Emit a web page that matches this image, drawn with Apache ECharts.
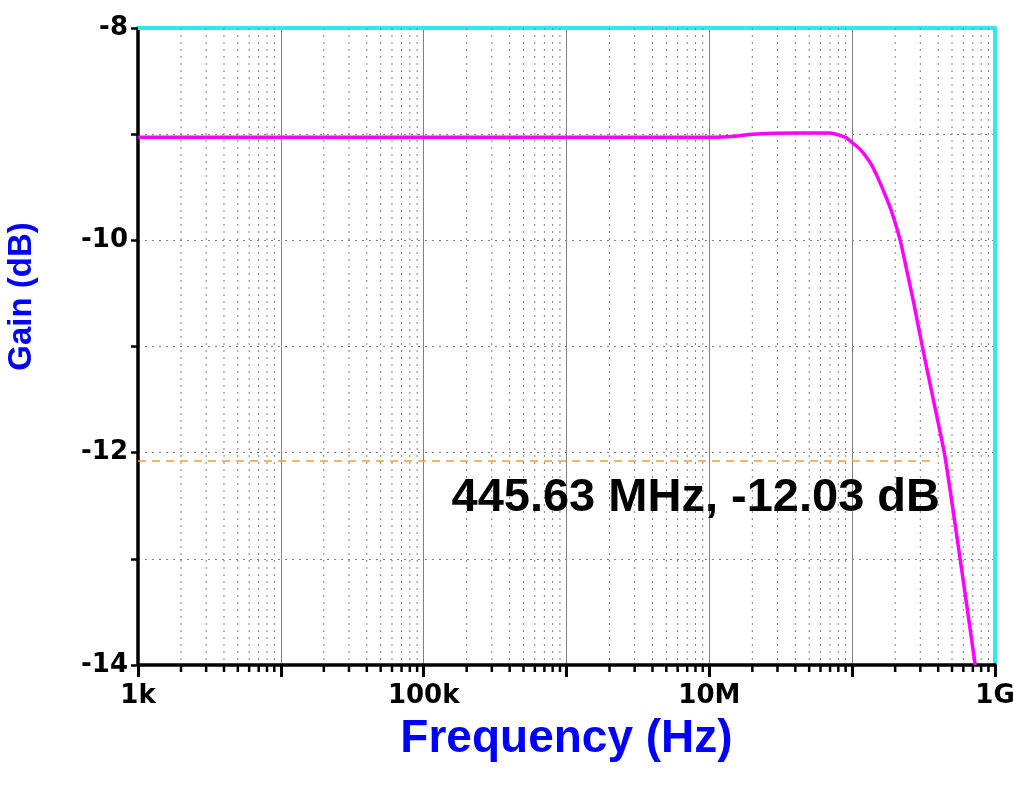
<!DOCTYPE html>
<html>
<head>
<meta charset="utf-8">
<script src="https://cdn.jsdelivr.net/npm/echarts@6/dist/echarts.min.js"></script>
<style>
html, body { margin: 0; padding: 0; background: #fff; }
#chart { width: 1014px; height: 785px; }
</style>
</head>
<body>
<div id="chart"></div>
<script>
// frequency response
const freqHz = [1e3, 1e4, 1e5, 1e6, 1e7, 1.5e7, 2e7, 4e7, 7e7, 9e7, 1e8, 1.15e8, 1.34e8, 1.5e8,
  1.76e8, 1.9e8, 2.17e8, 2.4e8, 2.67e8, 2.8e8, 3.1e8, 3.7e8, 4.4563e8, 5.7e8, 7.27e8];
const gainDb = [-9.03, -9.03, -9.03, -9.03, -9.03, -9.02, -9.0, -8.99, -8.99, -9.03, -9.08, -9.15, -9.27, -9.4,
  -9.62, -9.74, -10.0, -10.27, -10.56, -10.7, -11.0, -11.5, -12.03, -13.0, -14.0];

// marker
const markerFreq = 445.63e6;
const markerGain = -12.03;
const markerLineDb = -12.08;
const markerLineEnd = 3.8e8;

// axis labels
const xLabelPower = [3, 5, 7, 9];
const xLabelText = ['1k', '100k', '10M', '1G'];
const yMin = -14, yMax = -8;
const xMin = 1e3, xMax = 1e9;

// minor log gridlines 2..9 in each decade
const minorFreqs = [];
for (let p = 3; p < 9; p++) {
  for (let m = 2; m <= 9; m++) minorFreqs.push(m * Math.pow(10, p));
}

const chart = echarts.init(document.getElementById('chart'));

function renderMinor(params, api) {
  const top = api.coord([api.value(0), yMax]);
  const bot = api.coord([api.value(0), yMin]);
  return {
    type: 'group',
    children: [
      { type: 'line', shape: { x1: top[0], y1: top[1], x2: bot[0], y2: bot[1] },
        style: { stroke: '#808080', lineWidth: 1, lineDash: [2, 5] } },
      { type: 'line', shape: { x1: bot[0], y1: bot[1], x2: bot[0], y2: bot[1] + 7 },
        style: { stroke: '#000', lineWidth: 2.5 } }
    ]
  };
}

const labelFont = { color: '#000', fontSize: 26, fontWeight: 'bold', fontFamily: 'DejaVu Sans' };
const cyanFrame = { show: true, lineStyle: { color: '#2EEAEA', width: 4 } };

let option = {
  animation: false,
  backgroundColor: '#fff',
  grid: {
    left: 138, right: 19, top: 28, bottom: 120,
    outerBoundsMode: 'none',
    containLabel: false
  },
  xAxis: [{
    type: 'log',
    logBase: 10,
    min: xMin,
    max: xMax,
    splitNumber: 6,
    name: 'Frequency (Hz)',
    nameLocation: 'middle',
    nameGap: 51,
    nameTextStyle: { color: '#0000FF', fontSize: 46, fontWeight: 'bold', fontFamily: 'Liberation Sans' },
    axisLine: { lineStyle: { color: '#000', width: 3.5 } },
    axisTick: { length: 12, lineStyle: { color: '#000', width: 3 } },
    axisLabel: Object.assign({
      margin: 18,
      showMinLabel: true,
      showMaxLabel: true,
      formatter: function (v) {
        const i = xLabelPower.indexOf(Math.round(Math.log10(v)));
        return i >= 0 ? xLabelText[i] : '';
      }
    }, labelFont),
    splitLine: { show: true, lineStyle: { color: '#808080', width: 1, type: 'solid' } }
  }, {
    type: 'log', position: 'top', min: xMin, max: xMax,
    axisLine: cyanFrame, axisTick: { show: false }, axisLabel: { show: false }, splitLine: { show: false }
  }],
  yAxis: [{
    type: 'value',
    min: yMin,
    max: yMax,
    interval: 1,
    name: 'Gain (dB)',
    nameLocation: 'middle',
    nameRotate: 90,
    nameGap: 100,
    nameTextStyle: { color: '#0000FF', fontSize: 33, fontWeight: 'bold', fontFamily: 'Liberation Sans',
      padding: [0, 0, 0, 100] },
    axisLine: { lineStyle: { color: '#000', width: 3.5 } },
    axisTick: { length: 7, lineStyle: { color: '#000', width: 2.5 } },
    axisLabel: Object.assign({
      margin: 10,
      formatter: function (v) { return v % 2 === 0 ? String(v) : ''; }
    }, labelFont),
    splitLine: { show: true, lineStyle: { color: '#808080', width: 1, type: [2, 5] } }
  }, {
    type: 'value', position: 'right', min: yMin, max: yMax,
    axisLine: cyanFrame, axisTick: { show: false }, axisLabel: { show: false }, splitLine: { show: false }
  }],
  series: [
    {
      type: 'custom',
      z: 1,
      clip: false,
      silent: true,
      renderItem: renderMinor,
      encode: { x: 0, y: 1 },
      data: minorFreqs.map(f => [f, yMin])
    },
    {
      type: 'line',
      z: 3,
      data: freqHz.map((f, i) => [f, gainDb[i]]),
      showSymbol: false,
      smooth: 0.2,
      lineStyle: { color: '#FF00FF', width: 3.5 },
      markLine: {
        silent: true,
        symbol: 'none',
        label: { show: false },
        lineStyle: { color: '#EE9A3A', width: 1.5, type: [8, 6] },
        data: [[{ coord: [xMin, markerLineDb] }, { coord: [markerLineEnd, markerLineDb] }]]
      }
    }
  ],
  graphic: [
    {
      type: 'text',
      x: 940,
      y: 498,
      z: 10,
      style: {
        text: (markerFreq / 1e6).toFixed(2) + ' MHz, ' + markerGain.toFixed(2) + ' dB',
        fill: '#000',
        fontSize: 47,
        fontWeight: 'bold',
        fontFamily: 'Liberation Sans',
        align: 'right',
        verticalAlign: 'middle'
      }
    }
  ]
};

option && chart.setOption(option);
</script>
</body>
</html>
